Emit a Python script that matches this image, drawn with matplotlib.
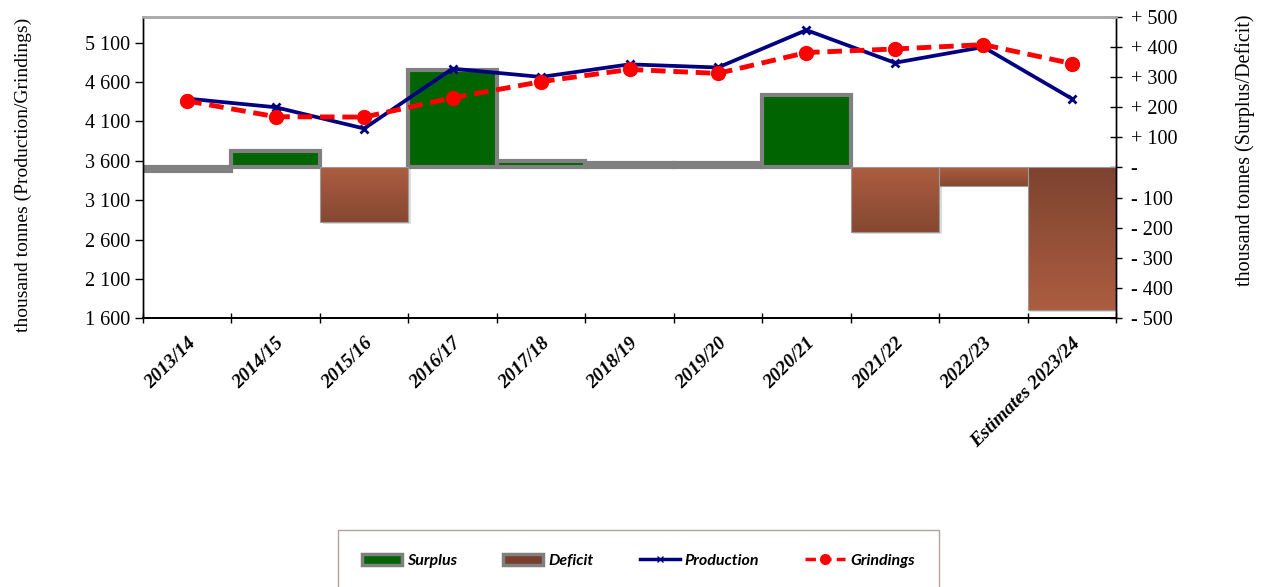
import numpy as np
import matplotlib
matplotlib.use("Agg")
import matplotlib.pyplot as plt
from matplotlib.colors import LinearSegmentedColormap
from matplotlib.ticker import FixedLocator, FuncFormatter
from matplotlib.patches import Rectangle, Patch
from matplotlib.lines import Line2D

# ---------------- data ----------------
seasons = ["2013/14", "2014/15", "2015/16", "2016/17", "2017/18", "2018/19",
           "2019/20", "2020/21", "2021/22", "2022/23", "Estimates 2023/24"]
production = [4390, 4280, 4010, 4770, 4665, 4825, 4785, 5260, 4845, 5045, 4390]
grindings = [4360, 4160, 4155, 4400, 4605, 4760, 4710, 4975, 5020, 5075, 4835]
surplus = [-10, 55, None, 322, 21, 15, 15, 241, None, None, None]
deficit = [None, None, -180, None, None, None, None, None, -213, -60, -473]
left_ticks = [1600, 2100, 2600, 3100, 3600, 4100, 4600, 5100]
right_ticks = [-500, -400, -300, -200, -100, 0, 100, 200, 300, 400, 500]

# ---------------- figure ----------------
W, H = 1263, 587
fig = plt.figure(figsize=(W / 100, H / 100), dpi=100)
ax = fig.add_axes([143 / W, 1 - 318.3 / H, (1116 - 143) / W, (318.3 - 16.7) / H])
ax2 = ax.twinx()
ax.set_zorder(ax2.get_zorder() + 1)
ax.patch.set_visible(False)

x = np.arange(len(seasons))
serif = "Liberation Serif"

# ---- bars (right axis) ----
green = "#006400"
edge_gray = "#808080"
light_brown = "#AC5D40"
dark_brown = "#7D4330"
for i, v in enumerate(surplus):
    if v is None:
        continue
    ax2.bar(x[i], v, width=1.0, color=green, edgecolor=edge_gray,
            linewidth=3.0, zorder=2)
for i, v in enumerate(deficit):
    if v is None:
        continue
    ax2.add_patch(Rectangle((x[i] - 0.5 + 0.03, v - 6), 1.0, -v,
                            facecolor="#cfcfcf", edgecolor="none",
                            alpha=0.7, zorder=1.5))
    if i == len(deficit) - 1:
        cols = [dark_brown, light_brown]
    else:
        cols = [light_brown, "#864832"]
    cmap = LinearSegmentedColormap.from_list("g%d" % i, cols)
    grad = np.linspace(0, 1, 100).reshape(-1, 1)
    ax2.imshow(grad, cmap=cmap, aspect="auto",
               extent=[x[i] - 0.5, x[i] + 0.5, v, 0],
               origin="upper", zorder=2, interpolation="bilinear")
    ax2.add_patch(Rectangle((x[i] - 0.5, v), 1.0, -v, facecolor="none",
                            edgecolor="#9a9a9a", linewidth=0.8, zorder=2.1))

ax2.set_ylim(-500, 500)
ax2.set_xlim(-0.5, len(seasons) - 0.5)

# ---- lines (left axis) ----
ax.plot(x, production, color="#000080", linewidth=2.7, marker="x",
        markersize=6, markeredgewidth=2, zorder=3)
ax.plot(x, grindings, color="#FF0000", linewidth=3.5, linestyle=(0, (3, 1.6)),
        marker="o", markersize=10, zorder=4)
ax.set_ylim(1600, 5430)
ax.set_xlim(-0.5, len(seasons) - 0.5)

# ---- axes styling ----
ax.yaxis.set_major_locator(FixedLocator(left_ticks))
ax.yaxis.set_major_formatter(FuncFormatter(lambda v, p: f"{int(v):,}".replace(",", " ")))
ax.tick_params(axis="y", direction="out", length=6, width=1, labelsize=14.5, pad=3)
for lab in ax.get_yticklabels():
    lab.set_fontfamily(serif)

ax.set_xticks(np.arange(len(seasons) + 1) - 0.5, minor=False)
ax.set_xticklabels([])
ax.set_xticks(x, minor=True)
ax.set_xticklabels(seasons, minor=True, rotation=45, ha="right",
                   rotation_mode="anchor", fontfamily=serif,
                   fontweight="bold", fontstyle="italic", fontsize=14)
ax.tick_params(axis="x", which="major", direction="inout", length=7, width=1)
ax.tick_params(axis="x", which="minor", length=0, pad=12)

def rfmt(v, p):
    v = int(round(v))
    if v == 0:
        return "-"
    return f"+ {v}" if v > 0 else f"- {abs(v)}"

ax2.yaxis.set_major_locator(FixedLocator(right_ticks))
ax2.yaxis.set_major_formatter(FuncFormatter(rfmt))
ax2.tick_params(axis="y", direction="inout", length=9, width=1, labelsize=14.5, pad=6)
for lab in ax2.get_yticklabels():
    lab.set_fontfamily(serif)
ax2.tick_params(axis="x", length=0)

for a in (ax, ax2):
    a.spines["top"].set_color("#a8a8a8")
    a.spines["top"].set_linewidth(1.8)
    a.spines["bottom"].set_color("black")
    a.spines["bottom"].set_linewidth(1.3)
    a.spines["left"].set_linewidth(1.0)
    a.spines["right"].set_linewidth(1.0)

ax.set_ylabel("thousand tonnes (Production/Grindings)", fontfamily=serif,
              fontsize=14)
ax.yaxis.set_label_coords((23 - 143) / 973, 0.475)
ax.yaxis.label.set_va("center")
ax2.set_ylabel("thousand tonnes (Surplus/Deficit)", fontfamily=serif,
               fontsize=14.5)
ax2.yaxis.set_label_coords((1245 - 143) / 973, 0.558)
ax2.yaxis.label.set_va("center")

# ---- legend ----
handles = [
    Patch(facecolor=green, edgecolor=edge_gray, linewidth=2.5),
    Patch(facecolor="#7A3E2C", edgecolor=edge_gray, linewidth=2.5),
    Line2D([], [], color="#000080", linewidth=2.5, marker="x", markersize=4),
    Line2D([], [], color="#FF0000", linewidth=2.5, linestyle=(0, (3, 1.5)),
           marker="o", markersize=7),
]
labels = ["Surplus", "Deficit", "Production", "Grindings"]
leg = fig.legend(handles, labels, loc="center", bbox_to_anchor=(638.5 / W, 1 - 561 / H),
                 ncol=4, frameon=True, fancybox=False, edgecolor="#a08888",
                 prop={"family": ["Lato", "DejaVu Sans"],
                       "style": "italic", "weight": "bold", "size": 11.5},
                 handlelength=2.5, columnspacing=2.9, handletextpad=0.3,
                 borderpad=1.5, borderaxespad=0)
leg.get_frame().set_linewidth(1.0)

fig.savefig("out.png", dpi=100, facecolor="white")
